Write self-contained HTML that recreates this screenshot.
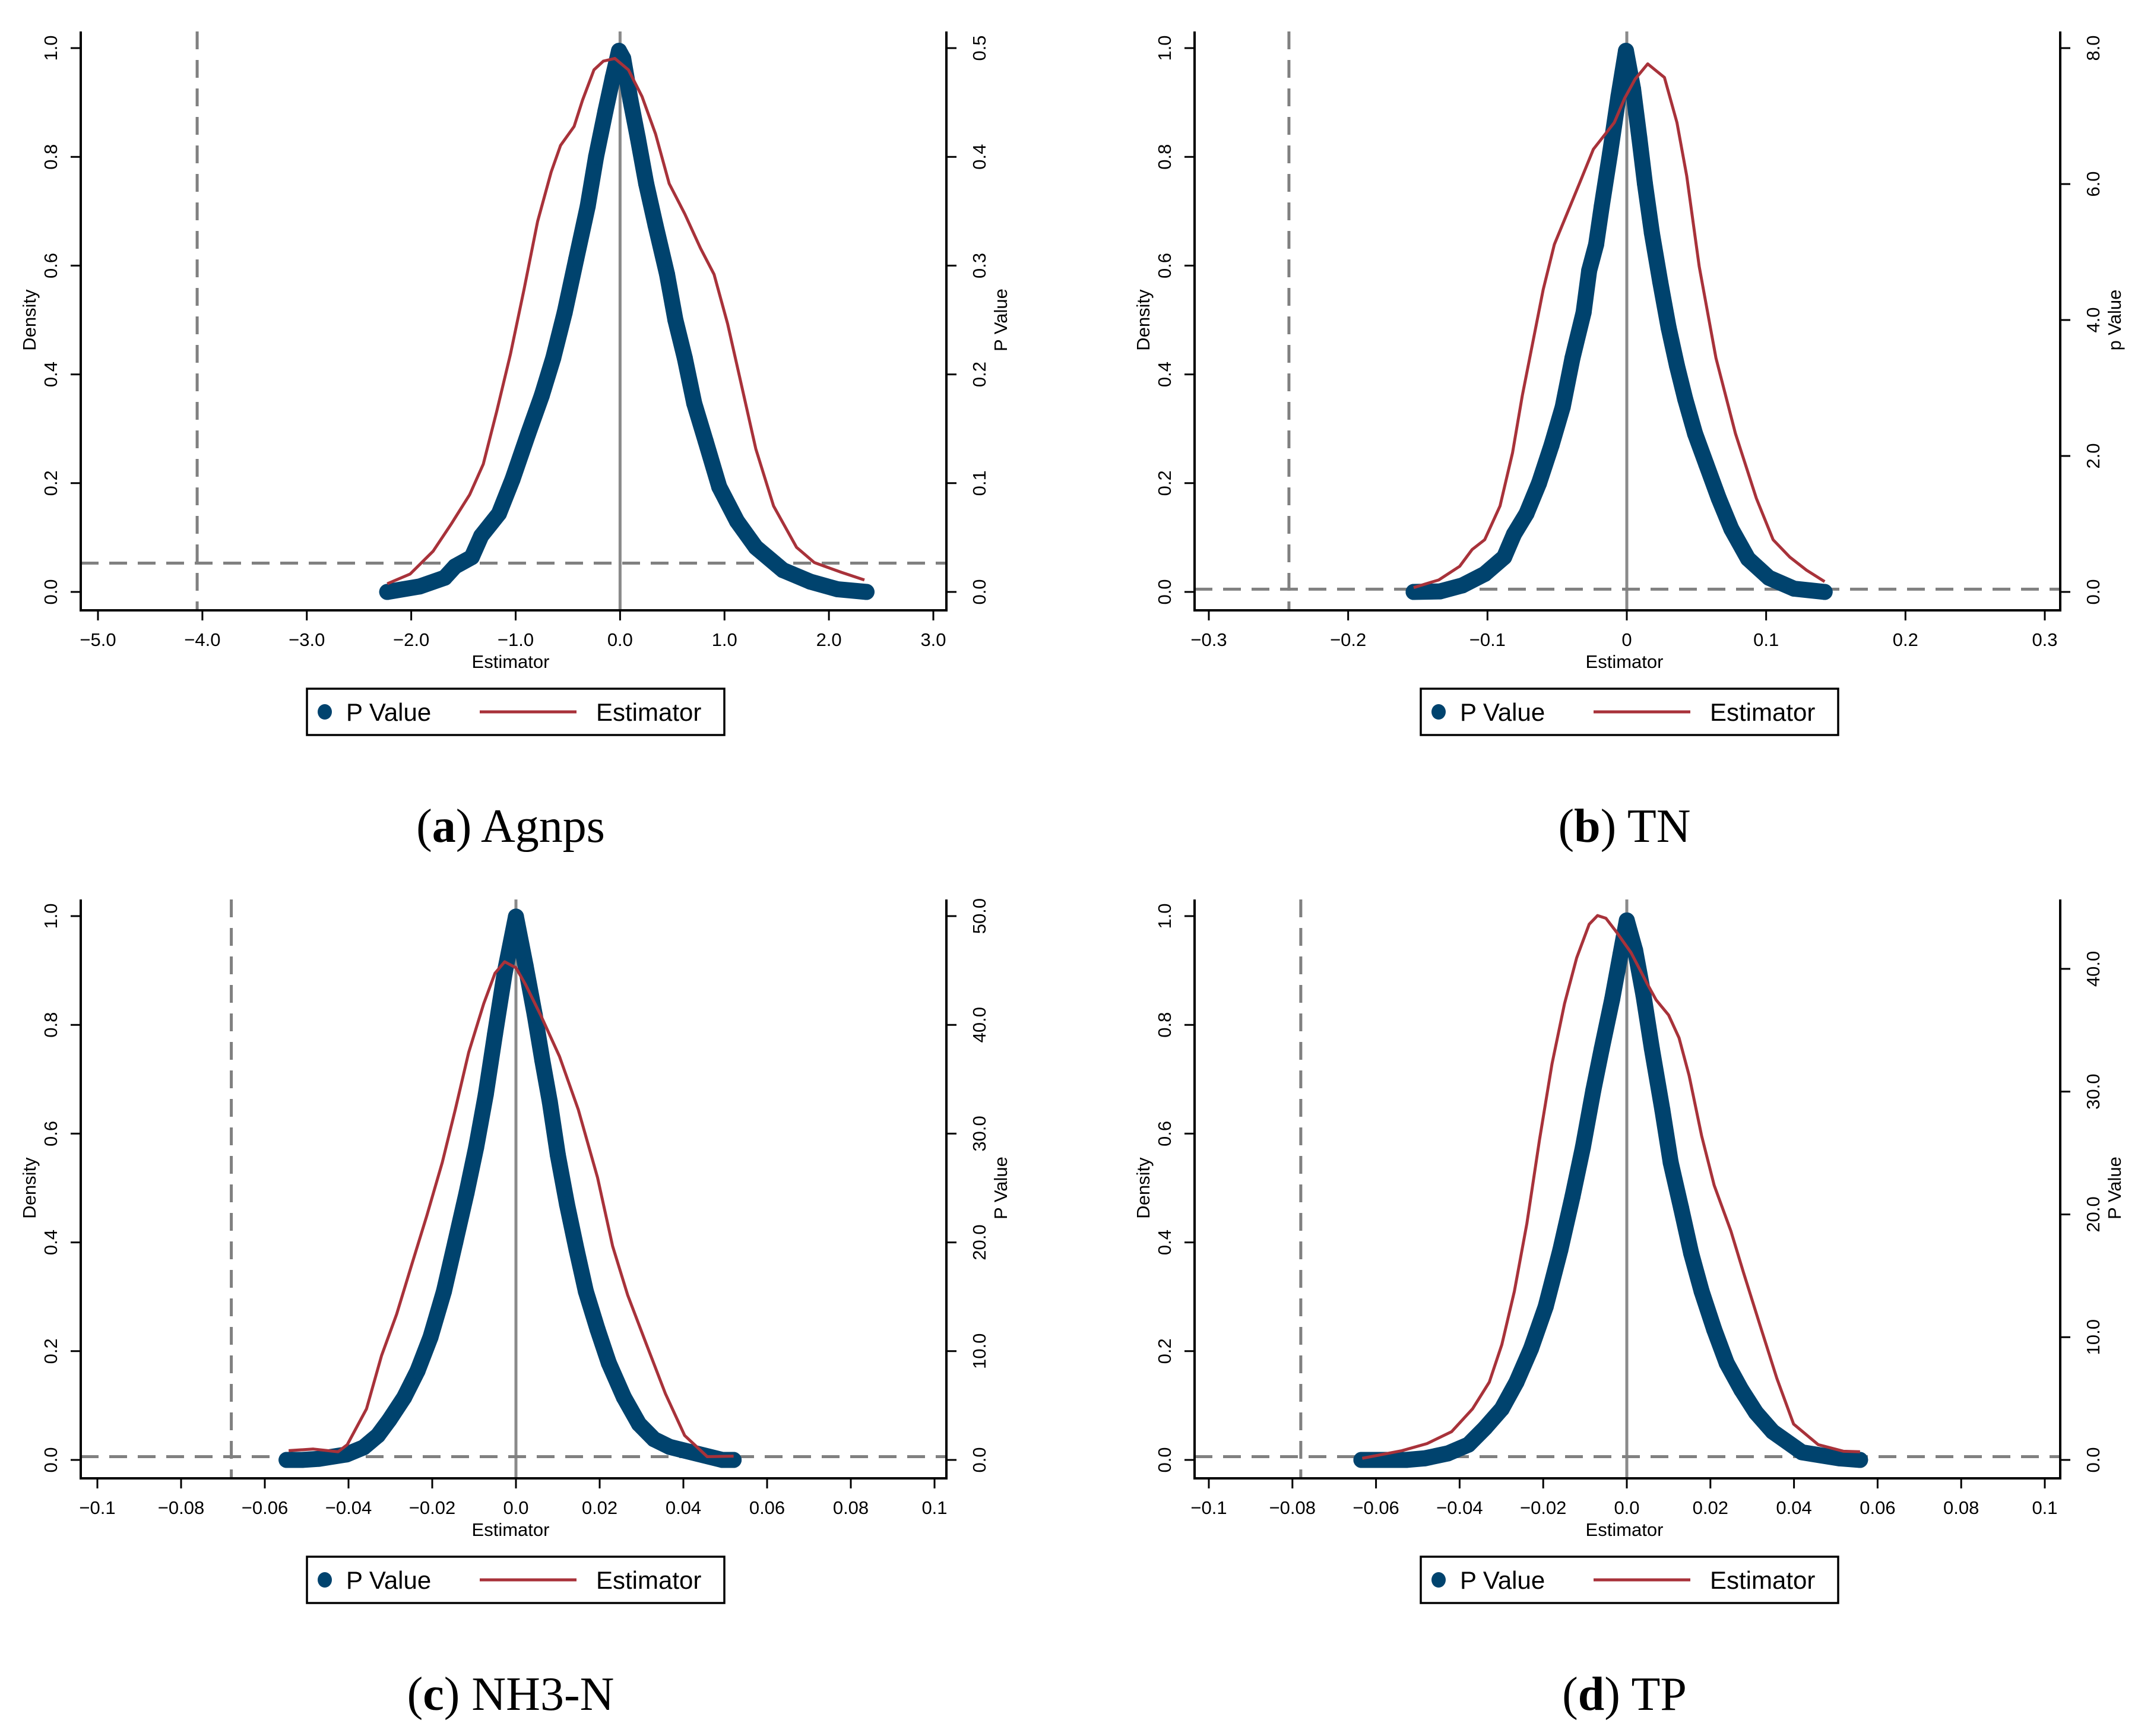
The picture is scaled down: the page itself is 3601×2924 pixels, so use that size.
<!DOCTYPE html>
<html><head><meta charset="utf-8">
<style>
html,body{margin:0;padding:0;background:#fff;}
svg{display:block;}
text{font-family:"Liberation Sans",Arial,sans-serif;}
.cap{font-family:"Liberation Serif",serif;}
</style></head>
<body>
<svg id="fig" width="3601" height="2924" viewBox="0 0 3601 2924" xmlns="http://www.w3.org/2000/svg"></svg>
<script>
// ---- Panel (a) Agnps ----
const aDotX=[-2.23,-1.92,-1.68,-1.58,-1.42,-1.33,-1.16,-1.03,-0.88,-0.75,-0.64,-0.53,-0.42,-0.31,-0.23,-0.14,-0.07,-0.01,0.03,0.10,0.17,0.25,0.34,0.45,0.53,0.62,0.71,0.82,0.95,1.12,1.30,1.56,1.82,2.08,2.36];
const aDotY=[0.0,0.01,0.026,0.047,0.064,0.103,0.144,0.207,0.291,0.361,0.43,0.514,0.612,0.709,0.80,0.884,0.946,0.995,0.981,0.904,0.835,0.751,0.674,0.584,0.50,0.43,0.347,0.277,0.193,0.130,0.082,0.040,0.019,0.005,0.0];
const aLineX=[-2.23,-2.01,-1.79,-1.62,-1.44,-1.31,-1.18,-1.05,-0.92,-0.79,-0.66,-0.57,-0.44,-0.36,-0.25,-0.16,-0.05,0.08,0.21,0.34,0.47,0.62,0.77,0.90,1.03,1.17,1.30,1.47,1.69,1.86,2.12,2.34];
const aLineY=[0.015,0.033,0.075,0.124,0.179,0.235,0.333,0.437,0.556,0.681,0.772,0.821,0.856,0.904,0.960,0.976,0.981,0.960,0.911,0.842,0.751,0.695,0.632,0.584,0.493,0.374,0.263,0.158,0.082,0.054,0.036,0.022];
const aXTicks=[-5,-4,-3,-2,-1,0,1,2,3];
const aXLabels=["\u22125.0","\u22124.0","\u22123.0","\u22122.0","\u22121.0","0.0","1.0","2.0","3.0"];
const aRTicks=[0,0.1,0.2,0.3,0.4,0.5];
const aRLabels=["0.0","0.1","0.2","0.3","0.4","0.5"];
// ---- Panel (b) TN ----
const bDotX=[-0.153,-0.134,-0.118,-0.102,-0.088,-0.081,-0.072,-0.063,-0.054,-0.046,-0.039,-0.031,-0.027,-0.022,-0.018,-0.012,-0.006,-0.0006,0.0045,0.009,0.013,0.018,0.024,0.030,0.036,0.042,0.049,0.057,0.066,0.075,0.087,0.102,0.120,0.142];
const bDotY=[0,0.001,0.012,0.033,0.064,0.106,0.144,0.200,0.270,0.340,0.430,0.514,0.591,0.639,0.709,0.807,0.911,0.995,0.925,0.835,0.751,0.660,0.570,0.486,0.416,0.354,0.291,0.235,0.172,0.116,0.061,0.026,0.006,0];
const bLineX=[-0.153,-0.135,-0.120,-0.111,-0.102,-0.091,-0.082,-0.075,-0.067,-0.060,-0.052,-0.043,-0.034,-0.024,-0.009,-0.0015,0.006,0.015,0.027,0.036,0.043,0.052,0.064,0.078,0.093,0.105,0.117,0.129,0.142];
const bLineY=[0.008,0.022,0.047,0.078,0.096,0.158,0.256,0.361,0.465,0.556,0.639,0.695,0.751,0.814,0.863,0.908,0.943,0.971,0.946,0.863,0.765,0.598,0.430,0.291,0.172,0.096,0.064,0.040,0.019];
const bXTicks=[-0.3,-0.2,-0.1,0,0.1,0.2,0.3];
const bXLabels=["\u22120.3","\u22120.2","\u22120.1","0","0.1","0.2","0.3"];
const bRTicks=[0,2,4,6,8];
const bRLabels=["0.0","2.0","4.0","6.0","8.0"];
// ---- Panel (c) NH3-N ----
const cDotX=[-0.0548,-0.0511,-0.0471,-0.0405,-0.0364,-0.0330,-0.0303,-0.0267,-0.0235,-0.0204,-0.0172,-0.0145,-0.0118,-0.0095,-0.0072,-0.0050,-0.0027,0,0.0023,0.0045,0.0063,0.0081,0.0100,0.0122,0.0145,0.0167,0.0195,0.0222,0.0258,0.0294,0.0330,0.0367,0.0493,0.0520];
const cDotY=[0,0,0.002,0.010,0.023,0.045,0.073,0.115,0.164,0.226,0.310,0.400,0.491,0.575,0.672,0.783,0.895,0.999,0.909,0.818,0.735,0.658,0.561,0.470,0.386,0.310,0.240,0.178,0.115,0.066,0.038,0.024,0,0];
const cLineX=[-0.0543,-0.0484,-0.0425,-0.0403,-0.0357,-0.0321,-0.0285,-0.0249,-0.0213,-0.0176,-0.0145,-0.0113,-0.0077,-0.0050,-0.0027,0,0.0023,0.0059,0.0104,0.0149,0.0195,0.0231,0.0267,0.0312,0.0357,0.0403,0.0457,0.0520];
const cLineY=[0.017,0.020,0.015,0.028,0.094,0.192,0.268,0.359,0.449,0.547,0.644,0.749,0.839,0.895,0.916,0.905,0.874,0.818,0.742,0.644,0.519,0.393,0.303,0.212,0.122,0.045,0.006,0.007];
const cXTicks=[-0.1,-0.08,-0.06,-0.04,-0.02,0,0.02,0.04,0.06,0.08,0.1];
const cXLabels=["\u22120.1","\u22120.08","\u22120.06","\u22120.04","\u22120.02","0.0","0.02","0.04","0.06","0.08","0.1"];
const cRTicks=[0,10,20,30,40,50];
const cRLabels=["0.0","10.0","20.0","30.0","40.0","50.0"];
// ---- Panel (d) TP ----
const dDotX=[-0.0635,-0.0528,-0.0483,-0.0428,-0.0379,-0.0339,-0.0299,-0.0264,-0.0229,-0.0194,-0.0159,-0.0130,-0.0105,-0.0080,-0.0060,-0.0035,-0.0015,0,0.0020,0.0040,0.0060,0.0085,0.0105,0.0130,0.0154,0.0179,0.0209,0.0239,0.0274,0.0309,0.0349,0.0419,0.0508,0.0558];
const dDotY=[0,0,0.003,0.012,0.028,0.059,0.094,0.143,0.205,0.282,0.386,0.484,0.575,0.680,0.756,0.847,0.930,0.992,0.937,0.854,0.756,0.644,0.547,0.463,0.380,0.310,0.240,0.178,0.129,0.087,0.052,0.014,0.003,0];
const dLineX=[-0.0633,-0.0538,-0.0478,-0.0419,-0.0369,-0.0329,-0.0299,-0.0269,-0.0239,-0.0209,-0.0179,-0.0149,-0.0120,-0.0090,-0.0070,-0.0050,-0.0025,0.0010,0.0050,0.0070,0.0100,0.0125,0.0149,0.0179,0.0209,0.0249,0.0279,0.0319,0.0359,0.0399,0.0458,0.0518,0.0558];
const dLineY=[0.003,0.017,0.030,0.052,0.094,0.143,0.212,0.310,0.435,0.588,0.728,0.839,0.923,0.985,1.001,0.996,0.971,0.933,0.874,0.846,0.818,0.776,0.707,0.596,0.505,0.421,0.345,0.247,0.150,0.066,0.028,0.016,0.015];
const dXTicks=cXTicks;
const dXLabels=cXLabels;
const dRTicks=[0,10,20,30,40];
const dRLabels=["0.0","10.0","20.0","30.0","40.0"];
const leftTicks=[0,0.2,0.4,0.6,0.8,1.0];
const leftLabels=["0.0","0.2","0.4","0.6","0.8","1.0"];

const NS="http://www.w3.org/2000/svg";
const svg=document.getElementById('fig');
function mk(tag,attrs,parent,txt){const e=document.createElementNS(NS,tag);for(const k in attrs)e.setAttribute(k,attrs[k]);if(txt!==undefined)e.textContent=txt;(parent||svg).appendChild(e);return e;}

const panels=[
 {id:'a',dx:0,dy:0,x0:-5,x1:3,px0:165,px1:1572,dotX:aDotX,dotY:aDotY,lineX:aLineX,lineY:aLineY,xt:aXTicks,xl:aXLabels,rt:aRTicks,rl:aRLabels,rmax:0.5,rtitle:'P Value',vdash:-4.05,hdash:0.053,cap:'a',capText:' Agnps'},
 {id:'b',dx:1876,dy:0,x0:-0.3,x1:0.3,px0:2036,px1:3444,dotX:bDotX,dotY:bDotY,lineX:bLineX,lineY:bLineY,xt:bXTicks,xl:bXLabels,rt:bRTicks,rl:bRLabels,rmax:8,rtitle:'p Value',vdash:-0.2425,hdash:0.005,cap:'b',capText:' TN'},
 {id:'c',dx:0,dy:1462,x0:-0.1,x1:0.1,px0:164,px1:1574,dotX:cDotX,dotY:cDotY,lineX:cLineX,lineY:cLineY,xt:cXTicks,xl:cXLabels,rt:cRTicks,rl:cRLabels,rmax:50,rtitle:'P Value',vdash:-0.068,hdash:0.006,cap:'c',capText:' NH3-N'},
 {id:'d',dx:1876,dy:1462,x0:-0.1,x1:0.1,px0:2036,px1:3444,dotX:dDotX,dotY:dDotY,lineX:dLineX,lineY:dLineY,xt:dXTicks,xl:dXLabels,rt:dRTicks,rl:dRLabels,rmax:44.3,rtitle:'P Value',vdash:-0.078,hdash:0.006,cap:'d',capText:' TP'}
];

panels.forEach(p=>{
  const g=mk('g',{});
  
  
  const L=136+p.dx, R=1594+p.dx, T=53+p.dy, B=1028+p.dy;
  const y0=997+p.dy, y1=81+p.dy;
  const sx=v=>p.px0+(v-p.x0)/(p.x1-p.x0)*(p.px1-p.px0);
  const sy=v=>y0+(y1-y0)*v;
  const vz=mk('line',{x1:sx(0),x2:sx(0),y1:T,y2:B,stroke:'#8a8a8a','stroke-width':5},g);
  
  
  const vd=mk('line',{x1:sx(p.vdash),x2:sx(p.vdash),y1:T,y2:B,stroke:'#808080','stroke-width':5,'stroke-dasharray':'30 18'},g);
  
  
  const hd=mk('line',{x1:L,x2:R,y1:sy(p.hdash),y2:sy(p.hdash),stroke:'#808080','stroke-width':5,'stroke-dasharray':'30 18'},g);
  
  
  const dg=mk('g',{},g);
  
  
  const pts=p.dotX.map((x,i)=>sx(x)+','+sy(p.dotY[i])).join(' ');
  const pl=mk('polyline',{points:pts,fill:'none',stroke:'#00436e','stroke-width':27,'stroke-linejoin':'round','stroke-linecap':'round'},dg);
  
  
  p.dotX.forEach((x,i)=>{
    const c=mk('ellipse',{cx:sx(x),cy:sy(p.dotY[i]),rx:13.5,ry:13.5,fill:'#00436e'},dg);
    
    
  });
  const lp=p.lineX.map((x,i)=>sx(x)+','+sy(p.lineY[i])).join(' ');
  const ln=mk('polyline',{points:lp,fill:'none',stroke:'#a8323a','stroke-width':5,'stroke-linejoin':'round'},g);
  
  
  const ax=mk('path',{d:`M${L},${T}V${B}H${R}V${T}`,fill:'none',stroke:'#000','stroke-width':4},g);
  
  
  leftTicks.forEach((v,i)=>{
    const y=sy(v);
    mk('line',{x1:L-17,x2:L,y1:y,y2:y,stroke:'#000','stroke-width':3},g);
    const t=mk('text',{x:0,y:0,transform:`translate(${L-40},${y}) rotate(-90)`,'text-anchor':'middle','font-size':31},g,leftLabels[i]);
    
    
  });
  p.rt.forEach((v,i)=>{
    const y=sy(v/p.rmax);
    mk('line',{x1:R,x2:R+17,y1:y,y2:y,stroke:'#000','stroke-width':3},g);
    const t=mk('text',{x:0,y:0,transform:`translate(${R+66},${y}) rotate(-90)`,'text-anchor':'middle','font-size':31},g,p.rl[i]);
    
    
  });
  p.xt.forEach((v,i)=>{
    const x=sx(v);
    mk('line',{x1:x,x2:x,y1:B,y2:B+17,stroke:'#000','stroke-width':3},g);
    const t=mk('text',{x:x,y:B+60,'text-anchor':'middle','font-size':31},g,p.xl[i]);
    
    
  });
  const xt=mk('text',{x:(L+R)/2-5,y:B+97,'text-anchor':'middle','font-size':31},g,'Estimator');
  
  
  const yt=mk('text',{x:0,y:0,transform:`translate(${60+p.dx},${(y0+y1)/2}) rotate(-90)`,'text-anchor':'middle','font-size':31},g,'Density');
  
  
  const rt=mk('text',{x:0,y:0,transform:`translate(${R+102},${(y0+y1)/2}) rotate(-90)`,'text-anchor':'middle','font-size':31},g,p.rtitle);
  
  
  const lg=mk('g',{},g);
  
  
  mk('rect',{x:517+p.dx,y:1160+p.dy,width:703,height:78,fill:'#fff',stroke:'#000','stroke-width':3.5},lg);
  mk('ellipse',{cx:547+p.dx,cy:1199+p.dy,rx:12,ry:13,fill:'#00436e'},lg);
  const l1=mk('text',{x:583+p.dx,y:1214+p.dy,'font-size':42},lg,'P Value');
  
  
  mk('line',{x1:808+p.dx,x2:971+p.dx,y1:1199+p.dy,y2:1199+p.dy,stroke:'#a8323a','stroke-width':5},lg);
  const l2=mk('text',{x:1004+p.dx,y:1214+p.dy,'font-size':42},lg,'Estimator');
  
  
  const cp=mk('text',{x:(L+R)/2-5,y:1418+p.dy,'text-anchor':'middle','font-size':80,'class':'cap'},g);
  
  
  mk('tspan',{},cp,'(');
  mk('tspan',{'font-weight':'bold'},cp,p.cap);
  mk('tspan',{},cp,')'+p.capText);
});
</script>
</body></html>
